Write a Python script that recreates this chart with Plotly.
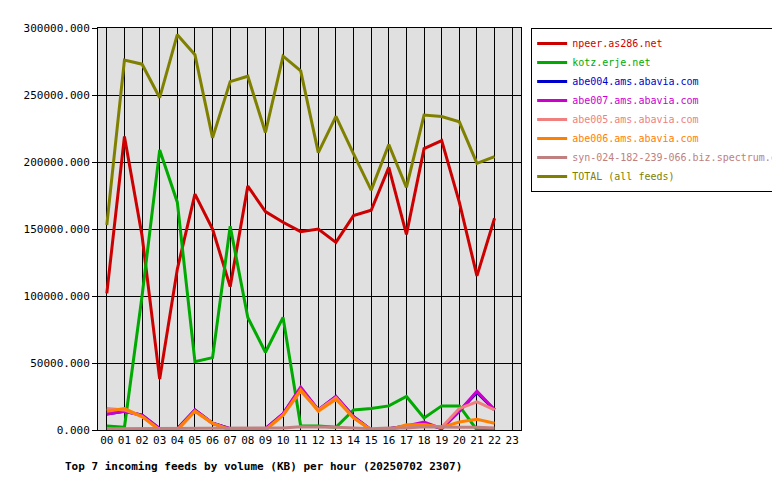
import plotly.graph_objects as go

hours = ["%02d" % h for h in range(24)]

npeer = [102000, 219000, 145000, 38000, 120000, 176000, 150000, 107000, 182000, 163000, 155000, 148000,
         150000, 140000, 160000, 164000, 196000, 146000, 210000, 216000, 170000, 115000, 158000]
kotz = [3000, 2000, 100000, 209000, 170000, 51000, 54000, 152000, 84000, 58000, 84000, 3000,
        3000, 2000, 15000, 16000, 18000, 25000, 9000, 18000, 18000, 0, 0]
abe004 = [12000, 14000, 11000, 1000, 1000, 15000, 5000, 1000, 1000, 1000, 12000, 31000,
          15000, 25000, 10000, 0, 1000, 3000, 5000, 1000, 14000, 28000, 15000]
abe007 = [12000, 14000, 11000, 1000, 1000, 15000, 5000, 1000, 1000, 1000, 12000, 32000,
          15000, 25000, 10000, 0, 1000, 3000, 6000, 1000, 14000, 29000, 15000]
abe005 = [16000, 15000, 10000, 0, 0, 14000, 5000, 0, 0, 0, 11000, 29000,
          15000, 24000, 9000, 0, 0, 3000, 4000, 2000, 16000, 21000, 15000]
abe006 = [14000, 16000, 10000, 0, 0, 14000, 5000, 0, 0, 0, 11000, 30000,
          14000, 23000, 9000, 0, 0, 4000, 4000, 2000, 6000, 8000, 5000]
syn = [1000, 1000, 1000, 1000, 1000, 1000, 1500, 1500, 1500, 1500, 1500, 2500,
       2500, 2000, 1500, 1000, 1500, 1500, 2500, 2000, 2000, 2000, 1500]
total = [153000, 276000, 273000, 248000, 295000, 280000, 218000, 260000, 264000, 222000, 279000, 268000,
         207000, 234000, 206000, 179000, 213000, 181000, 235000, 234000, 230000, 199000, 204000]

series = [
    ("npeer.as286.net", npeer, "#cc0000"),
    ("kotz.erje.net", kotz, "#00aa00"),
    ("abe004.ams.abavia.com", abe004, "#0000cc"),
    ("abe007.ams.abavia.com", abe007, "#cc00cc"),
    ("abe005.ams.abavia.com", abe005, "#f08080"),
    ("abe006.ams.abavia.com", abe006, "#ff8000"),
    ("syn-024-182-239-066.biz.spectrum.com", syn, "#c08080"),
    ("TOTAL (all feeds)", total, "#808000"),
]

font = "DejaVu Sans Mono"
fig = go.Figure()
for name, vals, col in series:
    fig.add_trace(go.Scatter(x=list(range(len(vals))), y=vals,
                             name="<span style='color:%s'>%s</span>" % (col, name), mode="lines",
                             line=dict(color=col, width=3)))

fig.update_layout(
    width=780, height=480,
    margin=dict(l=90, r=267, t=20, b=58, autoexpand=False),
    paper_bgcolor="white", plot_bgcolor="#e0e0e0",
    font=dict(family=font, size=11, color="black"),
    showlegend=True,
    legend=dict(x=1.024, y=1.0, xanchor="left", yanchor="top", bordercolor="black", borderwidth=1,
                bgcolor="white", tracegroupgap=0, itemwidth=30, font=dict(size=10)),
    xaxis=dict(range=[-0.5, 23.5], tickvals=list(range(24)), ticktext=hours,
               showgrid=True, gridcolor="black", gridwidth=1, zeroline=False,
               showline=True, linecolor="black", mirror=True, ticks="", fixedrange=True),
    yaxis=dict(range=[0, 300000], tickvals=list(range(0, 300001, 50000)), tickformat=".3f",
               showgrid=True, gridcolor="black", gridwidth=1, zeroline=False,
               showline=True, linecolor="black", mirror=True, ticks="outside", ticklen=5,
               tickcolor="black"),
)
fig.add_annotation(text="<b>Top 7 incoming feeds by volume (KB) per hour (20250702 2307)</b>",
                   xref="paper", yref="paper", x=-0.083, y=-0.07, xanchor="left", yanchor="top",
                   showarrow=False, font=dict(size=11, family=font))
fig.write_html("out.html")
